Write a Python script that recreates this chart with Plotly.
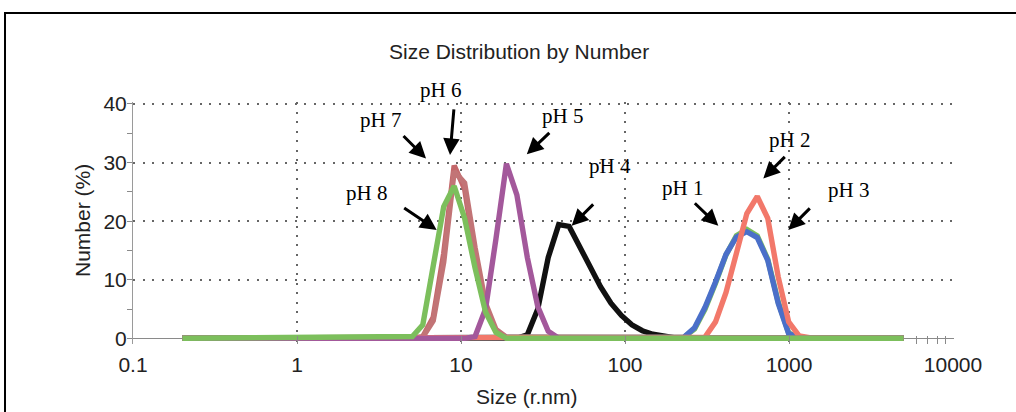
import math
import plotly.graph_objects as go

# ---------------- data ----------------
# particle radius (nm) and number (%) for each pH curve
size_ph8 = [0.2, 5.05, 5.85, 6.77, 7.845, 9.085, 10.52, 12.18, 14.11, 16.34, 18.92, 5000]
num_ph8 = [0, 0.3, 2.3, 12.0, 22.5, 26.0, 20.5, 12.0, 4.5, 1.0, 0, 0]

size_ph6 = [0.2, 5.05, 5.85, 6.77, 7.845, 9.085, 10.52, 12.18, 14.11, 16.34, 18.92, 5000]
num_ph6 = [0, 0, 0.3, 3.6, 14.5, 29.5, 25.5, 14.0, 5.2, 1.2, 0, 0]

size_ph7 = [0.2, 5.05, 5.85, 6.77, 7.845, 9.085, 10.52, 12.18, 14.11, 16.34, 18.92, 5000]
num_ph7 = [0, 0, 0.2, 3.0, 13.0, 28.5, 26.5, 15.5, 6.0, 1.5, 0.2, 0]

size_ph5 = [0.2, 10.52, 12.18, 14.11, 16.34, 18.92, 21.91, 25.38, 29.39, 34.03, 39.41, 5000]
num_ph5 = [0, 0, 0.3, 5.0, 17.0, 29.8, 24.5, 13.8, 5.4, 1.2, 0, 0]

size_ph4 = [0.2, 21.91, 25.38, 29.39, 34.03, 39.41, 45.64, 52.85, 61.2, 70.9, 82.1,
            95.05, 110.1, 127.5, 147.7, 171.0, 198.1, 229.4, 5000]
num_ph4 = [0, 0, 0.6, 5.0, 13.8, 19.4, 19.1, 15.7, 12.2, 8.8, 6.0,
           3.9, 2.3, 1.3, 0.7, 0.3, 0.1, 0, 0]

size_ph1 = [0.2, 229.4, 265.6, 307.6, 356.2, 412.5, 477.7, 553.0, 640.5, 742.0, 859.0, 995.0, 1152.5, 5000]
num_ph1 = [0, 0.2, 1.8, 5.3, 9.6, 14.3, 17.3, 18.2, 17.2, 13.3, 6.0, 0.8, 0.1, 0]

size_ph3 = [0.2, 229.4, 265.6, 307.6, 356.2, 412.5, 477.7, 553.0, 640.5, 742.0, 859.0, 995.0, 1152.5, 5000]
num_ph3 = [0, 0.2, 1.6, 5.0, 9.4, 14.2, 17.5, 18.6, 17.5, 13.5, 6.2, 0.9, 0.1, 0]

size_ph2 = [0.2, 307.6, 356.2, 412.5, 477.7, 553.0, 640.5, 742.0, 859.0, 995.0, 1152.5, 1334.5, 5000]
num_ph2 = [0, 0.2, 2.8, 7.8, 14.5, 21.3, 24.2, 20.5, 10.5, 2.8, 0.4, 0.1, 0]

# tick labels
x_tickvals = [0.1, 1, 10, 100, 1000, 10000]
x_ticktext = ["0.1", "1", "10", "100", "1000", "10000"]
y_tickvals = [0, 10, 20, 30, 40]

# annotation labels: text, label centre (size, %), arrow tip (size, %), arrow tail offset (px)
label_text = ["pH 1", "pH 2", "pH 3", "pH 4", "pH 5", "pH 6", "pH 7", "pH 8"]
label_size = [222.6, 1000, 2291, 81, 41.3, 7.55, 3.21, 2.67]
label_pct = [25.6, 33.8, 25.3, 29.4, 37.9, 42.4, 37.25, 24.8]
tip_size = [370.7, 697, 990, 47.3, 25.2, 8.57, 6.12, 7.11]
tip_pct = [19.2, 27.3, 18.5, 19.2, 31.4, 31.3, 30.7, 18.5]
tail_dx = [-25, 23, 23, 23, 24, 4, -24, -34]
tail_dy = [-24, -23, -23, -23, -23, -47, -24, -23]

# ---------------- figure ----------------
GREEN = "#7cbf5c"
BLUE = "#4a6fc9"
SALMON = "#f2786a"
PURPLE = "#a3589b"
RED6 = "#c4676a"
RED7 = "#c27476"
BLACK = "#111111"

traces = [
    ("pH 4", size_ph4, num_ph4, BLACK),
    ("pH 6", size_ph6, num_ph6, RED6),
    ("pH 7", size_ph7, num_ph7, RED7),
    ("pH 3", size_ph3, num_ph3, GREEN),
    ("pH 1", size_ph1, num_ph1, BLUE),
    ("pH 2", size_ph2, num_ph2, SALMON),
    ("pH 5", size_ph5, num_ph5, PURPLE),
    ("pH 8", size_ph8, num_ph8, GREEN),
]

X_RANGE = [-1, 4.006]
Y_RANGE = [-0.973, 40.34]

fig = go.Figure()
for name, xs, ys, col in traces:
    fig.add_trace(go.Scatter(x=xs, y=ys, mode="lines", name=name,
                             line=dict(color=col, width=5.4),
                             showlegend=False, hoverinfo="skip"))

GRID = "#666666"
AXC = "#8a8a8a"
SANS = "Liberation Sans, Arial, sans-serif"
SERIF = "Liberation Serif, Times New Roman, serif"

fig.update_xaxes(
    type="log", range=X_RANGE,
    tickvals=x_tickvals, ticktext=x_ticktext,
    showgrid=True, gridcolor=GRID, gridwidth=1.6, griddash="2px,7.5px",
    showline=False, zeroline=False,
    ticks="inside", ticklen=8, tickcolor=AXC, tickwidth=1,
    minor=dict(tickvals=[6000, 7000, 8000, 9000], ticks="inside", ticklen=8,
               tickcolor=AXC, showgrid=False),
    tickfont=dict(family=SANS, size=21, color="#222"),
    ticklabelstandoff=6,
)
fig.update_yaxes(
    range=Y_RANGE,
    tickvals=y_tickvals,
    showgrid=True, gridcolor=GRID, gridwidth=1.6, griddash="2px,7.5px",
    zeroline=True, zerolinecolor=AXC, zerolinewidth=1.2,
    showline=True, linecolor="#9a9a9a", linewidth=1,
    ticks="outside", ticklen=5, tickcolor=AXC,
    minor=dict(dtick=5, ticks="outside", ticklen=5, tickcolor=AXC, showgrid=False),
    tickfont=dict(family=SANS, size=21, color="#222"),
    ticklabelstandoff=-4,
)

# white patches left by the pasted labels (over the gridlines, under the curves)
patches = [
    (0.2363, 0.5847, 0.9587, 1.0165),
    (0.2363, 0.3496, 0.7273, 0.9587),
    (0.5359, 0.7296, 0.6860, 0.8926),
    (0.7759, 0.8246, 0.7686, 0.9752),
    (0.8209, 0.9306, 0.5744, 0.8017),
]
shapes = []
for x0, x1, y0, y1 in patches:
    shapes.append(dict(type="rect", xref="paper", yref="paper", x0=x0, x1=x1, y0=y0, y1=y1,
                       fillcolor="white", line=dict(width=0), layer="between"))
# outer frame
shapes.append(dict(type="rect", xref="paper", yref="paper", x0=-0.1559, x1=1.0828,
                   y0=-0.3347, y1=1.3678, line=dict(color="black", width=2),
                   fillcolor="rgba(0,0,0,0)", layer="above"))


def to_paper(size, pct):
    px = (math.log10(size) - X_RANGE[0]) / (X_RANGE[1] - X_RANGE[0])
    py = (pct - Y_RANGE[0]) / (Y_RANGE[1] - Y_RANGE[0])
    return px, py


annotations = []
for t, ls, lp, ts, tp, dx, dy in zip(label_text, label_size, label_pct, tip_size, tip_pct, tail_dx, tail_dy):
    lx, ly = to_paper(ls, lp)
    annotations.append(dict(x=lx, y=ly, xref="paper", yref="paper", text=t, showarrow=False,
                            font=dict(family=SERIF, size=21, color="black"),
                            xanchor="center", yanchor="middle"))
    annotations.append(dict(x=math.log10(ts), y=tp, xref="x", yref="y", text="", showarrow=True,
                            ax=dx, ay=dy, arrowhead=2, arrowsize=1.1, arrowwidth=3,
                            arrowcolor="black", standoff=0, startstandoff=0))

annotations.append(dict(x=0.4702, y=1.2107, xref="paper", yref="paper",
                        text="Size Distribution by Number", showarrow=False,
                        font=dict(family=SANS, size=21, color="#222"),
                        xanchor="center", yanchor="middle"))
annotations.append(dict(x=0.4799, y=-0.2149, xref="paper", yref="paper",
                        text="Size (r.nm)", showarrow=False,
                        font=dict(family=SANS, size=21, color="#222"),
                        xanchor="center", yanchor="middle"))
annotations.append(dict(x=-0.0609, y=0.5083, xref="paper", yref="paper",
                        text="Number (%)", showarrow=False, textangle=-90,
                        font=dict(family=SANS, size=21, color="#222"),
                        xanchor="center", yanchor="middle"))

fig.update_layout(
    width=1016, height=412,
    margin=dict(l=133, r=62, t=102, b=68, pad=0),
    paper_bgcolor="white", plot_bgcolor="white",
    shapes=shapes, annotations=annotations,
    showlegend=False,
)

fig.write_html("out.html")
